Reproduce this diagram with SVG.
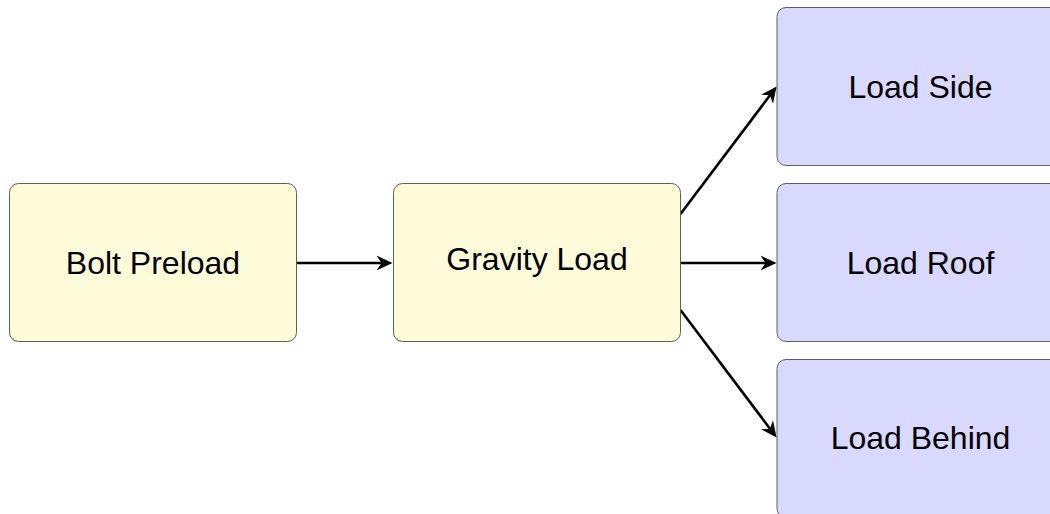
<svg xmlns="http://www.w3.org/2000/svg" width="1050" height="514" viewBox="0 0 1050 514">
<style>
.y{fill:#fefbd9;stroke:#5f5f5f;stroke-width:1}
.b{fill:#d9d8fd;stroke:#5f5f5f;stroke-width:1}
.t{font-family:"Liberation Sans",Arial,Helvetica,sans-serif;font-size:32px;fill:#000;text-anchor:middle}
.c{stroke:#000;stroke-width:2.6;fill:none;marker-end:url(#ah)}
</style>
<defs>
<marker id="ah" markerUnits="userSpaceOnUse" viewBox="0 0 16 16" markerWidth="16" markerHeight="16" refX="10" refY="8" orient="auto">
<path d="M0,0.5 L16,8 L0,15.5 L5,8 z" fill="#000"/>
</marker>
</defs>
<rect width="1050" height="514" fill="#fff"/>
<g id="connectors">
<line class="c" x1="297" y1="263" x2="386.5" y2="263"/>
<line class="c" x1="680.5" y1="263" x2="770.5" y2="263"/>
<line class="c" x1="680.5" y1="214" x2="773" y2="91.3"/>
<line class="c" x1="680.5" y1="310" x2="773" y2="432.7"/>
</g>
<g id="bolt-preload">
<rect class="y" x="9.5" y="183.5" width="287" height="158" rx="9"/>
<text class="t" x="153" y="274">Bolt Preload</text>
</g>
<g id="gravity-load">
<rect class="y" x="393.5" y="183.5" width="287" height="158" rx="9"/>
<text class="t" x="537" y="270">Gravity Load</text>
</g>
<g id="load-side">
<rect class="b" x="777" y="7.5" width="287" height="158" rx="9"/>
<text class="t" x="920.5" y="98">Load Side</text>
</g>
<g id="load-roof">
<rect class="b" x="777" y="183.5" width="287" height="158" rx="9"/>
<text class="t" x="920.5" y="274">Load Roof</text>
</g>
<g id="load-behind">
<rect class="b" x="777" y="359.5" width="287" height="158" rx="9"/>
<text class="t" x="920.5" y="449">Load Behind</text>
</g>
</svg>
